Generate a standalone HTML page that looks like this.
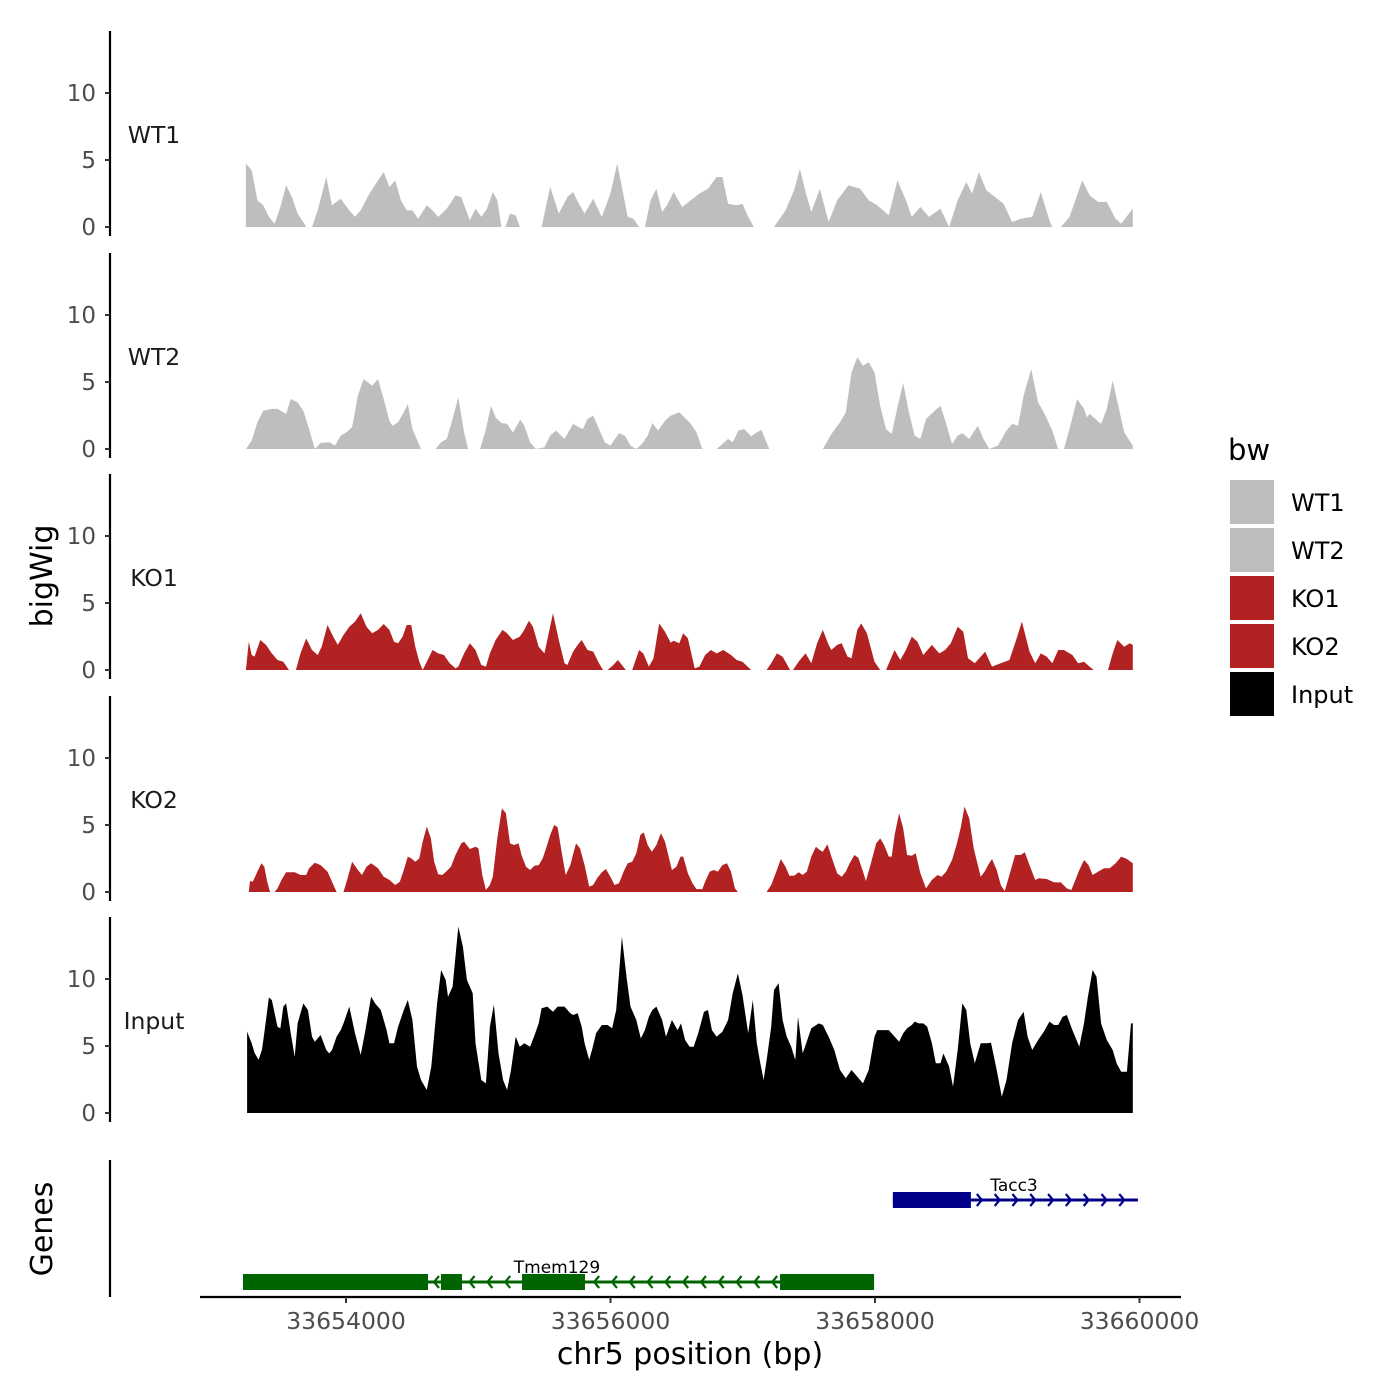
<!DOCTYPE html>
<html><head><meta charset="utf-8">
<style>
html,body{margin:0;padding:0;background:#fff;}
svg{display:block;font-family:"DejaVu Sans","Liberation Sans",sans-serif;}
</style></head>
<body>
<svg id="chart" width="1400" height="1400" viewBox="0 0 1400 1400" xmlns="http://www.w3.org/2000/svg"></svg>
<script>
// ---- data (positions are bp offsets from 33653200; null breaks a segment) ----
const trackNames = ["WT1","WT2","KO1","KO2","Input"];
const trackColors = ["#bebebe","#bebebe","#b22222","#b22222","#000000"];
const yTicks = [0,5,10];
const xTicks = [33654000,33656000,33658000,33660000];
const xTickLabels = ["33654000","33656000","33658000","33660000"];

const wt1Pos=[43,87,130,174,217,260,304,347,391,434,477,499,null,543,586,651,694,760,825,868,911,977,1042,1085,1128,1172,1215,1259,1302,1345,1411,1454,1497,1562,1628,1671,1736,1779,1823,1866,1910,1944,1975,null,2005,2040,2083,2114,null,2279,2344,2409,2474,2517,2561,2604,2669,2734,2799,2851,2886,2930,2973,3016,null,3060,3103,3147,3190,3233,3277,3342,3407,3472,3537,3602,3646,3689,3754,3798,3841,3884,null,4036,4123,4188,4232,4275,4318,4383,4449,4514,4600,4687,4752,4817,4904,4969,5034,5078,5143,5208,5295,5360,5425,5490,5534,5586,5642,5707,5772,5837,5902,5989,6054,6119,6141,null,6206,6271,6315,6367,6423,6488,6553,6619,6662,6749];
const wt1Val=[4.73,4.23,2.0,1.62,0.75,0.25,1.49,3.11,2.24,1.0,0.37,0,null,0,1.24,3.73,1.62,2.11,1.24,0.75,1.24,2.49,3.48,4.10,2.99,3.48,1.99,1.24,1.24,0.62,1.62,1.24,0.75,1.37,2.36,2.24,0.50,1.37,0.75,1.37,2.61,1.99,0,null,0,1.0,0.87,0,null,0,2.99,1.0,2.24,2.61,1.74,1.0,2.11,0.75,2.49,4.73,2.99,0.75,0.62,0,null,0,1.99,2.86,1.12,1.74,2.61,1.49,1.99,2.49,2.86,3.73,3.73,1.74,1.62,1.74,0.75,0,null,0,1.24,2.74,4.35,2.61,1.12,2.86,0.37,1.99,3.11,2.86,1.99,1.62,0.87,3.48,1.99,0.75,1.49,0.75,1.37,0,1.99,3.36,2.49,4.10,2.74,2.24,1.74,0.37,0.62,0.75,2.61,0.50,0,null,0,0.75,1.99,3.48,2.36,1.87,1.87,0.62,0.25,1.37];

const wt2Pos=[43,87,130,174,239,282,326,347,382,434,477,521,564,608,673,716,760,803,846,890,933,998,1042,1085,1128,1150,1194,1237,1267,1302,1367,null,1476,1519,1562,1606,1649,1693,1723,null,1814,1858,1897,1931,1975,2018,2062,2118,2148,2192,2235,2300,2344,2387,2452,2517,2561,2591,2626,2669,2713,2756,2799,2864,2908,2951,2995,3038,3081,3116,3160,3212,3255,3320,3407,3450,3494,null,3602,3646,3689,3724,3767,3811,3863,3906,3941,4001,null,4405,4470,4535,4579,4622,4666,4709,4752,4796,4839,4883,4926,4969,5013,5056,5100,5143,5186,5251,5295,5338,5382,5425,5460,5512,5577,5620,5664,5729,5794,5837,5881,5924,5981,6033,6076,6141,6185,null,6228,6271,6328,6380,6402,6423,6467,6510,6553,6597,6640,6684,6749];
const wt2Val=[0,0.62,2.0,2.86,2.99,2.99,2.74,2.61,3.73,3.48,2.86,1.49,0,0.45,0.5,0.25,1.0,1.24,1.62,3.98,5.22,4.73,5.22,3.73,2.11,1.74,1.99,2.74,3.36,1.49,0,null,0,0.5,0.75,2.24,3.86,1.24,0,null,0,1.49,3.23,2.36,1.94,1.87,1.24,2.19,1.74,0.5,0,0.12,1.0,1.37,0.75,1.87,1.62,1.49,2.24,2.49,1.49,0.5,0.25,1.19,1.0,0.25,0,0.37,1.0,1.94,1.37,2.11,2.49,2.74,1.87,1.24,0,null,0,0.37,0.75,0.5,1.37,1.49,0.94,1.24,1.42,0,null,0,1.12,1.99,2.74,5.72,6.84,6.22,6.47,5.72,3.23,1.49,1.12,3.11,4.93,2.74,1.0,0.75,2.24,2.86,3.23,1.87,0.37,1.0,1.19,0.75,1.74,0.75,0,0.25,1.37,1.87,1.74,3.98,5.97,3.48,2.74,1.37,0,null,0,1.49,3.73,2.99,2.36,2.61,2.24,1.87,2.99,5.10,3.23,1.24,0.25];

const ko1Pos=[43,65,87,109,130,152,195,239,282,326,369,null,421,456,499,543,586,616,660,703,738,781,825,868,911,955,998,1042,1085,1128,1163,1194,1228,1259,1293,1324,1354,1380,1411,1454,1497,1541,1584,1628,1649,1693,1736,1779,1823,1858,1888,1931,1983,2018,2062,2114,2148,2183,2213,2257,2300,2365,2409,2452,2474,2517,2552,2582,2626,2669,2713,2743,null,2778,2821,2856,2886,2916,null,2964,3016,3047,3090,3125,3168,3212,3255,3277,3320,3350,3385,3437,3472,3515,3559,3602,3654,3711,3754,3798,3863,null,3980,4015,4058,4101,4158,null,4179,4232,4275,4318,4362,4405,4449,4470,4514,4548,4592,4622,4666,4696,4739,4796,4839,null,4883,4948,4991,5034,5078,5121,5165,5230,5286,5330,5373,5425,5468,5503,5555,5633,5685,5751,5816,5859,5911,5968,6011,6054,6098,6141,6185,6228,6293,6336,6380,6423,6454,null,6562,6597,6632,6684,6727,6749];
const ko1Val=[0,2.11,1.12,1.0,1.62,2.24,1.87,1.24,0.75,0.62,0,null,0,1.24,2.36,1.49,1.12,1.74,3.36,2.49,1.87,2.61,3.23,3.61,4.23,3.23,2.74,2.99,3.43,2.99,2.11,1.99,2.49,3.36,3.36,1.74,0.62,0,0.62,1.49,1.24,1.12,0.5,0.12,0.25,1.24,1.99,1.49,0.37,0.25,1.24,2.24,2.99,2.74,2.24,2.49,2.99,3.68,3.23,1.74,1.24,4.23,2.24,0.5,0.37,1.37,1.87,2.24,1.49,1.37,0.5,0,null,0,0.37,0.75,0.37,0,null,0,1.49,1.24,0.25,0.87,3.48,2.86,2.04,2.19,1.99,2.74,2.36,0.12,0.25,1.12,1.49,1.24,1.49,1.12,0.75,0.62,0,null,0,0.5,1.24,1.0,0,null,0,0.75,1.24,0.5,1.99,2.99,1.87,1.49,1.87,1.99,1.0,0.87,2.99,3.48,2.74,0.62,0,null,0,1.49,0.75,1.49,2.49,2.11,1.12,1.87,1.24,1.49,1.99,3.23,2.86,0.87,0.5,1.37,0.25,0.5,0.75,1.99,3.61,1.37,0.5,1.24,1.0,0.5,1.49,1.49,1.12,0.5,0.62,0.25,0,null,0,1.24,2.24,1.74,1.99,1.87];

const ko2Pos=[65,74,95,130,161,182,204,226,null,260,282,312,347,412,456,499,521,564,608,660,694,729,null,781,812,846,890,920,955,990,1042,1085,1128,1172,1207,1237,1267,1293,1324,1354,1380,1411,1441,1467,1497,1528,1562,1593,1628,1671,1693,1736,1779,1801,1831,1858,1888,1910,1944,1979,2009,2040,2070,2105,2127,2161,2192,2226,2257,2287,2313,2344,2374,2400,2430,2461,2496,2539,2569,2604,2639,2669,2699,2734,2765,2799,2830,2864,2899,2930,2964,2995,3025,3051,3081,3112,3147,3181,3212,3264,3298,3329,3350,3385,3420,3450,3494,3515,3550,3581,3611,3646,3680,3711,3741,3763,null,3980,4015,4058,4088,4123,4153,4188,4223,4253,4284,4318,4353,4383,4405,4440,4470,4514,4548,4579,4609,4644,4674,4709,4731,4765,4809,4839,4869,4904,4926,4948,4982,5013,5043,5078,5108,5143,5186,5230,5273,5303,5338,5382,5416,5447,5477,5512,5546,5599,5629,5655,5685,5720,5751,5781,5816,5859,5902,5933,5968,6011,6041,6098,6154,6206,6250,6284,6315,6345,6380,6415,6445,6488,6532,6575,6619,6662,6705,6749];
const ko2Val=[0,0.82,0.77,1.52,2.14,1.89,0.77,0,null,0,0.27,0.90,1.47,1.47,1.27,1.27,1.77,2.19,2.01,1.52,0.77,0,null,0,1.02,2.26,1.64,1.27,1.89,2.14,1.77,1.14,0.90,0.52,0.77,1.64,2.64,2.51,2.26,2.51,3.76,4.88,4.03,2.26,1.32,1.27,1.57,1.89,2.76,3.63,3.76,3.21,3.38,3.26,1.27,0.15,0.52,1.14,4.00,6.24,5.87,3.63,3.51,3.63,2.76,1.89,1.64,1.97,2.01,2.51,3.26,4.25,5.00,4.83,3.01,1.27,2.01,3.63,3.26,2.01,0.40,0.52,1.02,1.47,1.72,1.14,0.52,0.65,1.52,2.14,2.26,2.89,4.25,4.45,3.51,3.01,3.51,4.38,3.76,1.64,1.89,2.64,2.64,1.39,0.65,0.22,0.22,0.77,1.52,1.64,1.52,2.01,2.14,1.52,0.27,0,null,0,0.52,1.64,2.46,1.89,1.22,1.22,1.47,1.27,1.52,2.64,3.38,3.13,3.01,3.56,2.64,1.39,1.14,1.52,2.14,2.76,2.56,1.52,0.82,2.01,3.63,4.00,3.51,2.64,2.64,4.25,5.87,4.75,2.76,2.71,2.89,1.39,0.27,0.90,1.27,1.14,1.52,2.39,3.51,4.75,6.37,5.50,3.26,1.14,1.52,2.01,2.46,1.64,0.52,0.07,1.27,2.76,2.76,2.96,2.01,0.90,1.02,0.97,0.72,0.72,0.27,0.15,0.90,1.64,2.39,2.01,1.27,1.52,1.77,1.77,2.14,2.64,2.46,2.14];

const inputPos=[52,87,109,139,165,182,217,239,282,304,326,347,382,412,434,477,512,543,564,608,651,673,694,729,760,781,825,868,911,946,990,1020,1063,1107,1128,1163,1194,1237,1267,1302,1337,1367,1411,1445,1489,1519,1554,1571,1606,1649,1684,1714,1758,1779,1823,1858,1888,1918,1953,1988,2018,2048,2083,2114,2148,2192,2226,2257,2279,2322,2365,2400,2452,2496,2517,2552,2582,2604,2639,2660,2691,2734,2778,2812,2843,2886,2921,2951,2995,3029,3060,3090,3116,3147,3190,3220,3264,3307,3333,3364,3398,3429,3463,3507,3537,3567,3602,3646,3689,3724,3763,3798,3841,3876,3906,3928,3958,3984,4015,4036,4071,4101,4132,4166,4197,4218,4253,4288,4318,4375,4405,4449,4492,4535,4579,4622,4666,4709,4752,4796,4817,4861,4904,4948,4982,5013,5043,5078,5100,5130,5165,5195,5230,5260,5295,5317,5360,5390,5425,5460,5490,5520,5555,5599,5642,5677,5720,5759,5794,5837,5881,5924,5954,5989,6033,6076,6119,6154,6185,6219,6250,6293,6345,6380,6410,6445,6475,6510,6553,6597,6627,6662,6705,6736,6749];
const inputVal=[6.07,5.20,4.48,3.98,4.73,5.97,8.63,8.43,6.44,6.32,7.94,8.18,5.97,4.20,6.69,8.18,7.69,5.70,5.32,5.82,4.70,4.45,4.70,5.70,6.19,6.69,7.94,5.95,4.33,6.14,8.68,8.18,7.69,6.19,5.20,5.20,6.44,7.69,8.43,6.94,3.46,2.46,1.72,3.46,8.18,10.67,9.93,8.68,9.43,13.91,12.41,9.93,8.93,5.20,2.46,2.21,6.44,8.08,4.45,2.46,1.72,3.21,5.70,4.95,5.20,4.95,5.82,6.69,7.81,7.94,7.56,7.94,7.94,7.44,7.31,7.44,6.44,5.20,3.96,4.70,5.95,6.57,6.57,6.32,7.69,13.16,10.17,7.94,6.94,5.57,6.19,7.19,7.69,7.94,6.94,5.70,6.94,6.19,6.69,5.45,4.95,4.95,5.95,7.56,7.69,6.19,5.70,6.07,6.94,8.93,10.42,8.80,5.95,8.43,5.20,3.96,2.46,4.20,6.44,9.18,9.68,6.94,5.70,4.95,3.96,7.19,4.45,5.45,6.32,6.69,6.57,5.70,4.70,3.21,2.59,3.21,2.71,2.21,3.21,5.70,6.19,6.19,6.19,5.70,5.32,5.95,6.32,6.57,6.82,6.69,6.69,6.44,5.20,3.71,3.71,4.45,3.46,1.97,4.70,8.18,7.69,5.20,3.71,5.20,5.20,5.25,3.21,1.22,2.46,5.20,6.94,7.56,5.70,4.70,5.45,6.07,6.82,6.57,6.57,7.19,7.31,6.19,4.95,6.69,8.68,10.67,10.17,6.69,5.45,4.70,3.71,3.08,3.08,6.69,6.69];

const trackPos=[wt1Pos,wt2Pos,ko1Pos,ko2Pos,inputPos];
const trackVal=[wt1Val,wt2Val,ko1Val,ko2Val,inputVal];

// genes (bp offsets from 33653200)
const tmemExonStart=[21,1518,2131,4082];
const tmemExonEnd=[1420,1677,2607,4793];
const tmemSpan=[21,4793];
const taccExonStart=[4935];
const taccExonEnd=[5525];
const taccSpan=[4935,6788];

// ---- scales ----
const BASE=33653200;
const xPx = off => 240.2 + off*0.13225;
const xBp = bp => xPx(bp-BASE);
const panelZero=[227,449,670,892,1113];
const yPx = (i,v) => panelZero[i] - v*13.4;

const svg=document.getElementById('chart');
const NS='http://www.w3.org/2000/svg';
function mk(tag,attrs,parent){const e=document.createElementNS(NS,tag);for(const k in attrs)e.setAttribute(k,attrs[k]);(parent||svg).appendChild(e);return e;}

for(let i=0;i<5;i++){
  const g=mk('g',{});
  
  
  const top=panelZero[i]-196;
  const ax=mk('line',{x1:110,x2:110,y1:top,y2:panelZero[i]+9,stroke:'#000','stroke-width':2.2},g);
  
  
  yTicks.forEach(t=>{
    const y=yPx(i,t);
    const tk=mk('line',{x1:105,x2:110,y1:y,y2:y,stroke:'#333','stroke-width':2},g);
    
    
    const tl=mk('text',{x:96,y:y+8,'text-anchor':'end','font-size':23,fill:'#4d4d4d'},g);
    tl.textContent=t;
    
    
  });
  const lbl=mk('text',{x:154,y:panelZero[i]-84,'text-anchor':'middle','font-size':23.5,fill:'#1a1a1a'},g);
  lbl.textContent=trackNames[i];
  
  
  const P=trackPos[i],V=trackVal[i];
  let seg=[];
  const flush=()=>{
    if(seg.length>1){
      let d='M'+xPx(seg[0][0]).toFixed(1)+','+panelZero[i];
      seg.forEach(p=>{d+='L'+xPx(p[0]).toFixed(1)+','+yPx(i,p[1]).toFixed(1);});
      d+='L'+xPx(seg[seg.length-1][0]).toFixed(1)+','+panelZero[i]+'Z';
      const a=mk('path',{d:d,fill:trackColors[i]},g);
      
      
    }
    seg=[];
  };
  for(let k=0;k<P.length;k++){
    if(P[k]===null||V[k]===null){flush();continue;}
    seg.push([P[k],V[k]]);
  }
  flush();
}

const yt=mk('text',{x:0,y:0,'font-size':30,'text-anchor':'middle',fill:'#000',transform:'translate(52,576) rotate(-90)'});
yt.textContent='bigWig';



const gg=mk('g',{});


const gax=mk('line',{x1:110,x2:110,y1:1160,y2:1297,stroke:'#000','stroke-width':2.2},gg);


const gt=mk('text',{x:0,y:0,'font-size':30,'text-anchor':'middle',fill:'#000',transform:'translate(52,1229) rotate(-90)'},gg);
gt.textContent='Genes';



function gene(name,span,es,ee,y,color,dir,labelX){
  const g=mk('g',{},gg);
  
  
  mk('line',{x1:xPx(span[0]),x2:xPx(span[1]),y1:y,y2:y,stroke:color,'stroke-width':3},g);
  for(let x=xPx(span[0])+ (dir>0?88:14); x<xPx(span[1])-2; x+=17.8){
    const inside=es.some((s,k)=>x>xPx(s)-3&&x<xPx(ee[k])+3);
    if(inside) continue;
    const d=dir>0?`M${x-4},${y-6}L${x+1},${y}L${x-4},${y+6}`:`M${x+4},${y-6}L${x-1},${y}L${x+4},${y+6}`;
    mk('path',{d:d,stroke:color,'stroke-width':2.2,fill:'none'},g);
  }
  es.forEach((s,k)=>{
    const r=mk('rect',{x:xPx(s),y:y-8,width:xPx(ee[k])-xPx(s),height:16,fill:color},g);
    
    
  });
  const t=mk('text',{x:labelX,y:y-9,'font-size':17,'text-anchor':'middle',fill:'#000'},g);
  t.textContent=name;
  
  
}
gene('Tmem129',tmemSpan,tmemExonStart,tmemExonEnd,1282,'#006400',-1,557);
gene('Tacc3',taccSpan,taccExonStart,taccExonEnd,1200,'#00008b',1,1014);

const xa=mk('line',{x1:200,x2:1181,y1:1297,y2:1297,stroke:'#000','stroke-width':2.2});


xTicks.forEach((t,k)=>{
  const x=xBp(t);
  const tk=mk('line',{x1:x,x2:x,y1:1297,y2:1303,stroke:'#333','stroke-width':2});
  
  
  const tl=mk('text',{x:x,y:1329,'text-anchor':'middle','font-size':23.5,fill:'#4d4d4d'});
  tl.textContent=xTickLabels[k];
  
  
});
const xt=mk('text',{x:690,y:1364,'text-anchor':'middle','font-size':30,fill:'#000'});
xt.textContent='chr5 position (bp)';



const lg=mk('g',{});


const lt=mk('text',{x:1228,y:460,'font-size':29,fill:'#000'},lg);
lt.textContent='bw';


for(let i=0;i<5;i++){
  const e=mk('g',{},lg);
  
  
  const y=480+i*48;
  mk('rect',{x:1230,y:y,width:44,height:44,fill:trackColors[i]},e);
  const t=mk('text',{x:1291,y:y+31,'font-size':24,fill:'#000'},e);
  t.textContent=trackNames[i];
}
</script>
</body></html>
